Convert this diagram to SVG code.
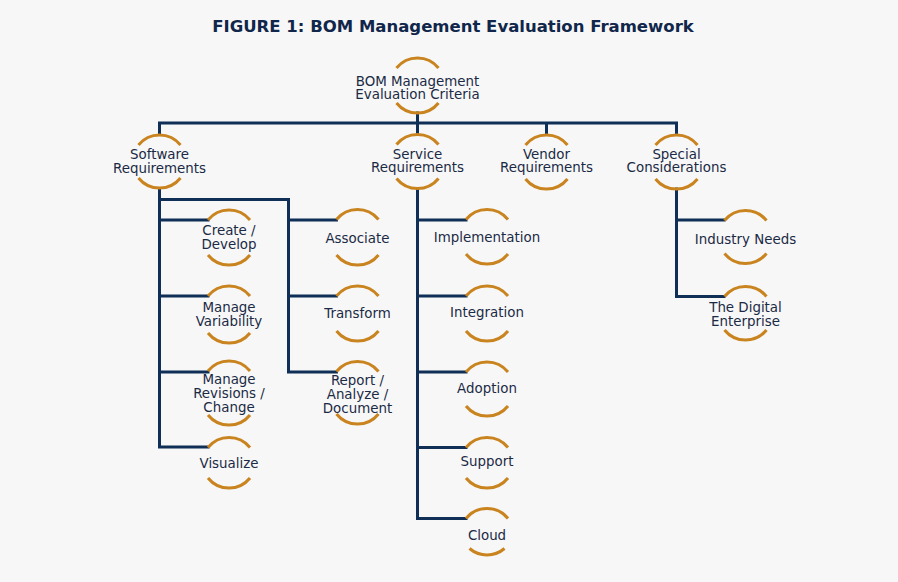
<svg xmlns="http://www.w3.org/2000/svg" width="898" height="582" viewBox="0 0 898 582">
<style>
.bg{fill:#f7f7f7}
.c{fill:none;stroke:#0f2f57;stroke-width:3;stroke-linecap:square}
.a{fill:none;stroke:#c9841f;stroke-width:3}
text{font-family:"DejaVu Sans",Verdana,sans-serif;font-size:13.4px;fill:#1b2a45;text-anchor:middle}
.t{font-weight:bold;font-size:16.5px;fill:#10264a}
</style>
<rect class="bg" width="898" height="582"/>
<text class="t" x="453" y="32">FIGURE 1: BOM Management Evaluation Framework</text>
<g id="connectors">
<path class="c" d="M417.5 113V134"/>
<path class="c" d="M159.5 134V123H676.5V134M546.5 123V134"/>
<path class="c" d="M159.5 189V447H208M159.5 220H208M159.5 296H208M159.5 372H208"/>
<path class="c" d="M159.5 199.5H288.5V372H336.5M288.5 220H336.5M288.5 296H336.5"/>
<path class="c" d="M417.5 189V518.5H466M417.5 220H466M417.5 296H466M417.5 372H466M417.5 447.5H466"/>
<path class="c" d="M676.5 189V296.5H724M676.5 220H724"/>
</g>
<g id="root">
<path class="a" d="M396.5 68A27 27 0 0 1 438.5 68M396.5 103A27 27 0 0 0 438.5 103"/>
<text x="417.5" y="85.5">BOM Management</text>
<text x="417.5" y="99">Evaluation Criteria</text>
</g>
<g id="software">
<path class="a" d="M138.5 145A27 27 0 0 1 180.5 145M138.5 178A27 27 0 0 0 180.5 178"/>
<text x="159.5" y="159">Software</text>
<text x="159.5" y="172.5">Requirements</text>
</g>
<g id="service">
<path class="a" d="M396.5 144.5A27 27 0 0 1 438.5 144.5M396.5 178.5A27 27 0 0 0 438.5 178.5"/>
<text x="417.5" y="158.5">Service</text>
<text x="417.5" y="172">Requirements</text>
</g>
<g id="vendor">
<path class="a" d="M525.5 145A27 27 0 0 1 567.5 145M525.5 179A27 27 0 0 0 567.5 179"/>
<text x="546.5" y="158.5">Vendor</text>
<text x="546.5" y="172">Requirements</text>
</g>
<g id="special">
<path class="a" d="M655.5 145A27 27 0 0 1 697.5 145M655.5 179A27 27 0 0 0 697.5 179"/>
<text x="676.5" y="158.5">Special</text>
<text x="676.5" y="172">Considerations</text>
</g>
<g id="create">
<path class="a" d="M208 220A27 27 0 0 1 250 220M208 255A27 27 0 0 0 250 255"/>
<text x="229" y="235">Create /</text>
<text x="229" y="249">Develop</text>
</g>
<g id="variability">
<path class="a" d="M208 296A27 27 0 0 1 250 296M208 333A27 27 0 0 0 250 333"/>
<text x="229" y="311.5">Manage</text>
<text x="229" y="325.5">Variability</text>
</g>
<g id="revisions">
<path class="a" d="M208 371A27 27 0 0 1 250 371M208 415A27 27 0 0 0 250 415"/>
<text x="229" y="384">Manage</text>
<text x="229" y="398">Revisions /</text>
<text x="229" y="411.5">Change</text>
</g>
<g id="visualize">
<path class="a" d="M208 447.5A27 27 0 0 1 250 447.5M208 478A27 27 0 0 0 250 478"/>
<text x="229" y="468">Visualize</text>
</g>
<g id="associate">
<path class="a" d="M336.5 219.5A27 27 0 0 1 378.5 219.5M336.5 255A27 27 0 0 0 378.5 255"/>
<text x="357.5" y="243">Associate</text>
</g>
<g id="transform">
<path class="a" d="M336.5 296A27 27 0 0 1 378.5 296M336.5 331A27 27 0 0 0 378.5 331"/>
<text x="357.5" y="318">Transform</text>
</g>
<g id="report">
<path class="a" d="M336.5 371.5A27 27 0 0 1 378.5 371.5M336.5 414A27 27 0 0 0 378.5 414"/>
<text x="357.5" y="385">Report /</text>
<text x="357.5" y="399">Analyze /</text>
<text x="357.5" y="413">Document</text>
</g>
<g id="implementation">
<path class="a" d="M466 219.5A27 27 0 0 1 508 219.5M466 254A27 27 0 0 0 508 254"/>
<text x="487" y="241.5">Implementation</text>
</g>
<g id="integration">
<path class="a" d="M466 296A27 27 0 0 1 508 296M466 331A27 27 0 0 0 508 331"/>
<text x="487" y="317">Integration</text>
</g>
<g id="adoption">
<path class="a" d="M466 372A27 27 0 0 1 508 372M466 406A27 27 0 0 0 508 406"/>
<text x="487" y="393">Adoption</text>
</g>
<g id="support">
<path class="a" d="M466 447.5A27 27 0 0 1 508 447.5M466 478A27 27 0 0 0 508 478"/>
<text x="487" y="465.5">Support</text>
</g>
<g id="cloud">
<path class="a" d="M466 518.5A27 27 0 0 1 508 518.5M469.5 548.5A27 27 0 0 0 504.5 548.5"/>
<text x="487" y="540">Cloud</text>
</g>
<g id="industry">
<path class="a" d="M724.5 220.5A27 27 0 0 1 766.5 220.5M724.5 253.5A27 27 0 0 0 766.5 253.5"/>
<text x="745.5" y="244">Industry Needs</text>
</g>
<g id="digital">
<path class="a" d="M724.5 296.5A27 27 0 0 1 766.5 296.5M724.5 330A27 27 0 0 0 766.5 330"/>
<text x="745.5" y="311.5">The Digital</text>
<text x="745.5" y="325.5">Enterprise</text>
</g>
</svg>
